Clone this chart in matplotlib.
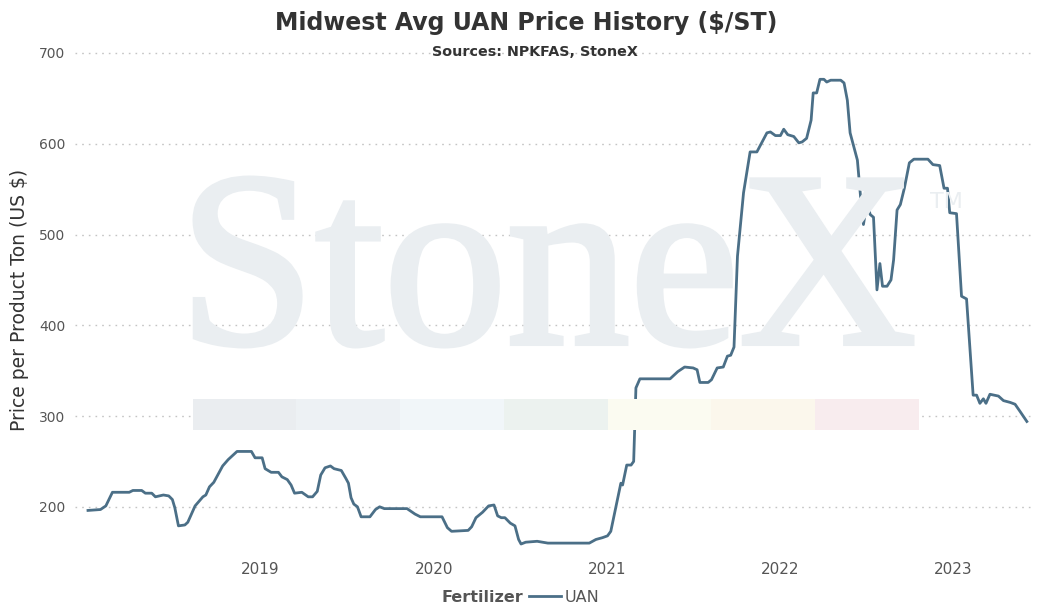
import matplotlib
matplotlib.use("Agg")
import matplotlib.pyplot as plt
from matplotlib.patches import Rectangle, PathPatch
from matplotlib.textpath import TextPath
from matplotlib.font_manager import FontProperties
from matplotlib.transforms import Affine2D, IdentityTransform

# UAN price points (decimal year, $/ST)
years = [
    2018.005, 2018.077, 2018.108, 2018.146, 2018.243, 2018.264, 2018.315, 2018.336,
    2018.373, 2018.394, 2018.440, 2018.471, 2018.492, 2018.506, 2018.527, 2018.564,
    2018.581, 2018.623, 2018.668, 2018.685, 2018.706, 2018.731, 2018.782, 2018.814,
    2018.865, 2018.948, 2018.969, 2019.010, 2019.027, 2019.062, 2019.104, 2019.124,
    2019.155, 2019.177, 2019.197, 2019.239, 2019.276, 2019.301, 2019.328, 2019.348,
    2019.373, 2019.404, 2019.425, 2019.467, 2019.494, 2019.508, 2019.523, 2019.539,
    2019.560, 2019.581, 2019.632, 2019.664, 2019.688, 2019.715, 2019.846, 2019.892,
    2019.923, 2020.048, 2020.079, 2020.103, 2020.199, 2020.219, 2020.244, 2020.282,
    2020.317, 2020.348, 2020.369, 2020.390, 2020.411, 2020.442, 2020.469, 2020.490,
    2020.504, 2020.531, 2020.597, 2020.659, 2020.898, 2020.936, 2020.974, 2021.003,
    2021.022, 2021.080, 2021.090, 2021.114, 2021.139, 2021.154, 2021.167, 2021.190,
    2021.364, 2021.409, 2021.448, 2021.497, 2021.520, 2021.536, 2021.584, 2021.603,
    2021.636, 2021.671, 2021.695, 2021.714, 2021.733, 2021.753, 2021.788, 2021.826,
    2021.865, 2021.923, 2021.943, 2021.972, 2022.001, 2022.020, 2022.043, 2022.078,
    2022.107, 2022.126, 2022.152, 2022.178, 2022.190, 2022.210, 2022.229, 2022.252,
    2022.268, 2022.291, 2022.349, 2022.368, 2022.387, 2022.403, 2022.445, 2022.465,
    2022.480, 2022.500, 2022.519, 2022.538, 2022.558, 2022.575, 2022.590, 2022.616,
    2022.639, 2022.654, 2022.674, 2022.693, 2022.716, 2022.745, 2022.771, 2022.852,
    2022.881, 2022.920, 2022.945, 2022.965, 2022.978, 2023.017, 2023.046, 2023.075,
    2023.113, 2023.133, 2023.152, 2023.172, 2023.187, 2023.210, 2023.259, 2023.288,
    2023.327, 2023.355, 2023.384, 2023.423,
]
uan = [
    196, 197, 201, 216, 216, 218, 218, 215,
    215, 211, 213, 212, 208, 199, 179, 180,
    183, 201, 211, 213, 222, 227, 245, 252,
    261, 261, 254, 254, 242, 238, 238, 233,
    230, 224, 215, 216, 211, 211, 217, 235,
    243, 245, 242, 240, 231, 226, 210, 203,
    200, 189, 189, 197, 200, 198, 198, 192,
    189, 189, 177, 173, 174, 178, 188, 194,
    201, 202, 190, 188, 188, 182, 179, 164,
    159, 161, 162, 160, 160, 164, 166, 168,
    173, 226, 224, 246, 246, 250, 331, 341,
    341, 349, 354, 353, 351, 337, 337, 340,
    353, 354, 366, 367, 376, 476, 546, 591,
    591, 612, 613, 609, 609, 616, 610, 608,
    601, 602, 606, 626, 656, 656, 671, 671,
    668, 670, 670, 667, 648, 612, 582, 538,
    511, 535, 522, 519, 439, 468, 443, 443,
    450, 472, 527, 533, 551, 579, 583, 583,
    577, 576, 551, 551, 524, 523, 432, 429,
    323, 323, 314, 319, 314, 324, 322, 317,
    315, 313, 305, 294,
]
year_ticks = [2019, 2020, 2021, 2022, 2023]
price_ticks = [200, 300, 400, 500, 600, 700]

line_color = "#4b6f87"
mark_color = "#eaeef1"
band_colors = ["#eaedf0", "#edf1f4", "#f1f6f9", "#ecf2ef", "#fbfbf1", "#fbf7ec", "#f8ecee"]

W, H = 1047, 608
fig = plt.figure(figsize=(W / 100, H / 100), dpi=100)
ax = fig.add_axes([75 / W, 1 - 554 / H, 960 / W, 509 / H])
ax.patch.set_alpha(0)

# StoneX watermark, fitted into its box (pixel coords, y up); thick edge for the heavier face
tp = TextPath((0, 0), "StoneX", size=100, prop=FontProperties(family="Liberation Serif"))
ext = tp.get_extents()
x0, x1, ytop, ybot = 195, 912, 178, 346
sx = (x1 - x0) / ext.width
sy = (ybot - ytop) / ext.height
tr = Affine2D().translate(-ext.x0, -ext.y0).scale(sx, sy).translate(x0, H - ybot)
fig.patches.append(PathPatch(tr.transform_path(tp), transform=IdentityTransform(),
                             facecolor=mark_color, edgecolor=mark_color, lw=3.6,
                             joinstyle="miter", zorder=0))
fig.text(930 / W, 1 - 208 / H, "TM", fontsize=16, color=mark_color,
         ha="left", va="baseline", zorder=0)
seg_w = (919 - 192.5) / len(band_colors)
for i, c in enumerate(band_colors):
    fig.patches.append(Rectangle(((192.5 + i * seg_w) / W, 1 - 430 / H), seg_w / W, 31 / H,
                                 transform=fig.transFigure, facecolor=c, edgecolor="none",
                                 zorder=0))

ax.plot(years, uan, color=line_color, lw=2.0, label="UAN", solid_joinstyle="round")

ax.set_xlim(2017.93, 2023.47)
ax.set_ylim(148, 708.8)
ax.set_xticks(year_ticks)
ax.set_xticklabels([str(y) for y in year_ticks])
ax.set_yticks(price_ticks)
ax.grid(axis="y", color="#c4c4c4", lw=1.0, linestyle=(0, (1.2, 3.6)))
ax.grid(axis="x", visible=False)
for s in ax.spines.values():
    s.set_visible(False)
ax.tick_params(axis="both", length=0, colors="#555555")
ax.tick_params(axis="y", labelsize=10, pad=7)
ax.tick_params(axis="x", labelsize=11, pad=6)

ax.set_ylabel("Price per Product Ton (US $)", fontsize=13.5, color="#333333", labelpad=7)

fig.text(526 / W, 1 - 23 / H, "Midwest Avg UAN Price History ($/ST)", fontsize=17,
         fontweight="bold", color="#333333", ha="center", va="center")
fig.text(535 / W, 1 - 52 / H, "Sources: NPKFAS, StoneX", fontsize=10.3,
         fontweight="bold", color="#333333", ha="center", va="center")

# legend: bold group name then the series entry
fig.text(523 / W, 1 - 597 / H, "Fertilizer", fontsize=11.5, fontweight="bold",
         color="#555555", ha="right", va="center")
leg = fig.legend(handles=ax.get_lines(), loc="center left",
                 bbox_to_anchor=(529 / W, 1 - 597 / H), frameon=False, fontsize=11.5,
                 handlelength=2.0, handletextpad=0.25, borderpad=0, borderaxespad=0)
for t in leg.get_texts():
    t.set_color("#555555")

fig.savefig("out.png", dpi=100)
